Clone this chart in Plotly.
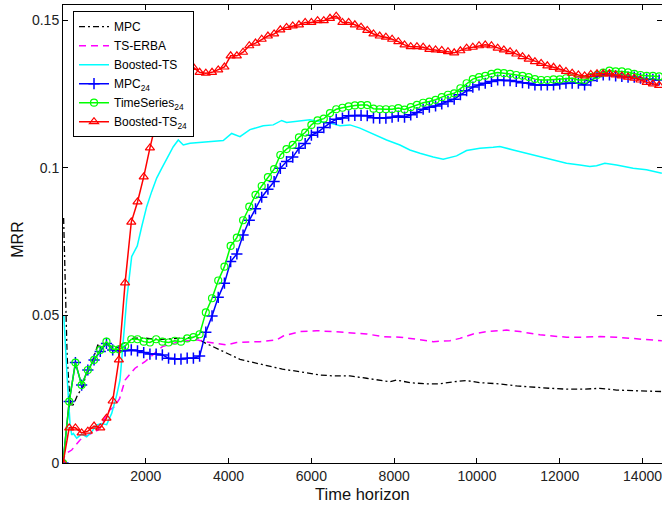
import plotly.graph_objects as go

# ---------------- data ----------------
# Series without markers (time, value)
mpc_t = [15, 40, 70, 100, 150, 200, 260, 350, 490, 550, 650, 750, 853, 900, 1055, 1150, 1297, 1450,
         1577, 1700, 2000, 2300, 2600, 2900, 3229, 3381, 3712, 4000, 4275, 4516, 5000, 5300, 5723,
         5965, 6206, 6520, 6931, 7334, 7735, 7897, 8059, 8380, 8783, 9105, 9426, 9749, 10071,
         10554, 10957, 11358, 11761, 12164, 12565, 12968, 13372, 13772, 14176, 14466]
mpc_v = [0.083, 0.07, 0.05, 0.036, 0.025, 0.019, 0.020, 0.023, 0.026, 0.030, 0.032, 0.036, 0.0405,
         0.038, 0.041, 0.0395, 0.039, 0.0405, 0.041, 0.0423, 0.0423, 0.0418, 0.042, 0.0422, 0.0426,
         0.041, 0.0389, 0.037, 0.0351, 0.0343, 0.0328, 0.0318, 0.0309, 0.0304, 0.0298, 0.0295,
         0.0295, 0.0287, 0.0279, 0.0275, 0.0281, 0.0272, 0.0268, 0.0268, 0.0275, 0.0279, 0.0272,
         0.0268, 0.0261, 0.0256, 0.0253, 0.025, 0.025, 0.0253, 0.0247, 0.0245, 0.0242, 0.0242]

erba_t = [0, 30, 97, 210, 410, 610, 850, 1130, 1250, 1370, 1500, 1740, 1980, 2260, 2400, 2800, 3230,
          3430, 3950, 4190, 4760, 5160, 5320, 5723, 6126, 6527, 6931, 7334, 7735, 8140, 8540, 8943,
          9345, 9587, 9910, 10232, 10715, 11036, 11519, 12164, 12565, 12968, 13372, 13772, 14176,
          14466]
erba_v = [0.0, 0.002, 0.0034, 0.0044, 0.0078, 0.0095, 0.0112, 0.018, 0.0191, 0.0219, 0.0281, 0.0321,
          0.0343, 0.0377, 0.0394, 0.0411, 0.0417, 0.0411, 0.040, 0.0408, 0.0411, 0.0417, 0.043,
          0.0445, 0.0448, 0.0445, 0.0441, 0.0437, 0.0428, 0.0426, 0.0419, 0.0411, 0.0414, 0.0422,
          0.0437, 0.0445, 0.045, 0.0445, 0.0434, 0.0426, 0.0426, 0.0428, 0.0426, 0.0422, 0.0417,
          0.0414]

bts_t = [20, 60, 100, 169, 210, 250, 331, 452, 572, 693, 814, 935, 1055, 1176, 1297, 1377, 1450, 1538,
         1659, 1794, 1901, 2021, 2142, 2263, 2384, 2543, 2664, 2785, 2905, 3067, 3309, 3630, 3871,
         4074, 4275, 4516, 4837, 5079, 5282, 5402, 5644, 5965, 6206, 6448, 6690, 6931, 7173, 7494,
         7817, 8139, 8380, 8622, 8943, 9184, 9508, 9749, 10071, 10392, 10554, 10875, 11198, 11520,
         11841, 12164, 12486, 12727, 12889, 13089, 13372, 13772, 14096, 14466]
bts_v = [0.05, 0.038, 0.029, 0.0135, 0.0095, 0.010, 0.0084, 0.0098, 0.0089, 0.0106, 0.0129, 0.0134,
         0.013, 0.0168, 0.023, 0.0281, 0.040, 0.0552, 0.0699, 0.0735, 0.080, 0.0868, 0.0919, 0.0965,
         0.0998, 0.1038, 0.1071, 0.1094, 0.1077, 0.1083, 0.1085, 0.1088, 0.1092, 0.1116, 0.1105,
         0.1129, 0.1142, 0.1145, 0.116, 0.1153, 0.1156, 0.1162, 0.1156, 0.1151, 0.1142, 0.1145,
         0.1134, 0.1114, 0.1094, 0.1077, 0.106, 0.1049, 0.1036, 0.1029, 0.104, 0.1058, 0.1066,
         0.1069, 0.1072, 0.106, 0.1049, 0.1038, 0.1026, 0.1015, 0.1009, 0.1004, 0.1007, 0.1015,
         0.1009, 0.0998, 0.0993, 0.0981]

# Series with markers, sampled every 150 time steps
marker_t = list(range(0, 14401, 150))

mpc24_v = [0.0, 0.0208, 0.034, 0.0264, 0.0315, 0.0349, 0.0378, 0.0405, 0.0383, 0.038,
           0.038, 0.0383, 0.038, 0.0374, 0.0369, 0.0369, 0.0366, 0.0355, 0.0352, 0.0352,
           0.0355, 0.0355, 0.0362, 0.0443, 0.0498, 0.0561, 0.0609, 0.0682, 0.0708, 0.0772,
           0.0822, 0.0861, 0.090, 0.0927, 0.0953, 0.0998, 0.1021, 0.1036, 0.1066, 0.1082,
           0.111, 0.112, 0.1136, 0.1152, 0.1164, 0.1168, 0.1176, 0.1177, 0.1177, 0.1176,
           0.1169, 0.1168, 0.1168, 0.1171, 0.1175, 0.1171, 0.1179, 0.1187, 0.1198, 0.1205,
           0.1209, 0.1216, 0.1224, 0.1232, 0.1247, 0.1261, 0.1273, 0.128, 0.1286, 0.1292,
           0.1297, 0.1295, 0.1295, 0.1292, 0.1288, 0.1286, 0.128, 0.128, 0.128, 0.128,
           0.1284, 0.1286, 0.1286, 0.1286, 0.128, 0.1295, 0.1309, 0.1314, 0.1314, 0.1311,
           0.1309, 0.1307, 0.1307, 0.1303, 0.130, 0.1299, 0.1297]

ts24_v = [0.0, 0.0208, 0.034, 0.0264, 0.0315, 0.0349, 0.0383, 0.0411, 0.0385, 0.0385,
          0.0396, 0.0419, 0.0419, 0.0411, 0.0408, 0.0419, 0.0411, 0.0408, 0.0414, 0.0411,
          0.0422, 0.0426, 0.0436, 0.051, 0.0558, 0.0618, 0.0665, 0.0735, 0.0763, 0.0822,
          0.0868, 0.0908, 0.0938, 0.0968, 0.0995, 0.1043, 0.1063, 0.1077, 0.1103, 0.1119,
          0.1145, 0.116, 0.1166, 0.1185, 0.1198, 0.1203, 0.1208, 0.1211, 0.1212, 0.1212,
          0.120, 0.1198, 0.1198, 0.1198, 0.1202, 0.1197, 0.1205, 0.1213, 0.122, 0.1224,
          0.123, 0.1239, 0.1247, 0.1252, 0.1269, 0.1286, 0.130, 0.1307, 0.1311, 0.1318,
          0.1322, 0.132, 0.1318, 0.1314, 0.1311, 0.1307, 0.130, 0.1297, 0.1297, 0.1299,
          0.1299, 0.1303, 0.1303, 0.1297, 0.1297, 0.1307, 0.1314, 0.1322, 0.1329, 0.1326,
          0.1326, 0.1323, 0.1318, 0.1314, 0.1311, 0.1311, 0.1309]

bts24_v = [0.0, 0.0119, 0.0119, 0.0102, 0.0108, 0.0125, 0.0119, 0.0152, 0.021, 0.0349,
           0.061, 0.0816, 0.0884, 0.0969, 0.1067, 0.1155, 0.122, 0.127, 0.131, 0.134,
           0.135, 0.134, 0.1323, 0.132, 0.1323, 0.1331, 0.1341, 0.1379, 0.1379, 0.1391,
           0.1413, 0.1422, 0.1435, 0.1446, 0.1453, 0.1467, 0.1475, 0.148, 0.1484, 0.1492,
           0.1492, 0.1498, 0.1498, 0.1506, 0.1513, 0.1492, 0.1492, 0.1484, 0.1476, 0.1465,
           0.1453, 0.1446, 0.1442, 0.1435, 0.1427, 0.1416, 0.141, 0.141, 0.1408, 0.1401,
           0.1399, 0.1397, 0.1393, 0.1389, 0.1396, 0.1405, 0.1408, 0.1413, 0.1416, 0.1413,
           0.1405, 0.1399, 0.1393, 0.1385, 0.1376, 0.1368, 0.1359, 0.1353, 0.1345, 0.134,
           0.1334, 0.1326, 0.132, 0.1314, 0.1311, 0.1316, 0.1318, 0.1318, 0.1318, 0.1314,
           0.1311, 0.1307, 0.1303, 0.1297, 0.1289, 0.1284, 0.1279]

x_ticks = [2000, 4000, 6000, 8000, 10000, 12000, 14000]
x_tick_text = ["2000", "4000", "6000", "8000", "10000", "12000", "14000"]
y_ticks = [0, 0.05, 0.1, 0.15]
y_tick_text = ["0", "0.05", "0.1", "0.15"]

# ---------------- figure ----------------
FONT = "Liberation Sans, Arial, Helvetica, sans-serif"
fig = go.Figure()

fig.add_trace(go.Scatter(x=mpc_t, y=mpc_v, mode="lines", name="MPC",
                         line=dict(color="black", width=1.3, dash="6px,3px,2px,3px")))
fig.add_trace(go.Scatter(x=erba_t, y=erba_v, mode="lines", name="TS-ERBA",
                         line=dict(color="#ff00ff", width=1.5, dash="7px,5px")))
fig.add_trace(go.Scatter(x=bts_t, y=bts_v, mode="lines", name="Boosted-TS",
                         line=dict(color="#00ffff", width=1.5)))
fig.add_trace(go.Scatter(x=marker_t, y=mpc24_v, mode="lines+markers", name="MPC<sub>24</sub>",
                         line=dict(color="#0000ff", width=1.5),
                         marker=dict(symbol="cross-thin-open", size=8,
                                     line=dict(color="#0000ff", width=1.5))))
fig.add_trace(go.Scatter(x=marker_t, y=ts24_v, mode="lines+markers", name="TimeSeries<sub>24</sub>",
                         line=dict(color="#00ff00", width=1.5),
                         marker=dict(symbol="circle-open", size=7,
                                     line=dict(color="#00ff00", width=1.2))))
fig.add_trace(go.Scatter(x=marker_t, y=bts24_v, mode="lines+markers", name="Boosted-TS<sub>24</sub>",
                         line=dict(color="#ff0000", width=1.5),
                         marker=dict(symbol="triangle-up-open", size=8,
                                     line=dict(color="#ff0000", width=1.2))))

axis_common = dict(showline=True, linecolor="black", linewidth=1, mirror="allticks",
                   ticks="inside", ticklen=5, tickcolor="black", showgrid=False,
                   zeroline=False, automargin=False, ticklabeloverflow="allow",
                   tickfont=dict(family=FONT, size=14, color="#222"))

fig.update_xaxes(range=[0, 14470], tickvals=x_ticks, ticktext=x_tick_text, **axis_common)
fig.update_yaxes(range=[0, 0.1551], tickvals=y_ticks, ticktext=y_tick_text, **axis_common)

fig.add_annotation(text="Time horizon", xref="paper", yref="paper", x=0.5, y=-0.068,
                   xanchor="center", yanchor="middle", showarrow=False,
                   font=dict(family=FONT, size=16.5, color="#111"))
fig.add_annotation(text="MRR", xref="paper", yref="paper", x=-0.0755, y=0.487,
                   xanchor="center", yanchor="middle", showarrow=False, textangle=-90,
                   font=dict(family=FONT, size=16, color="#111"))

fig.update_layout(
    width=662, height=505,
    margin=dict(l=63, r=0, t=5, b=42),
    plot_bgcolor="white", paper_bgcolor="white",
    font=dict(family=FONT, size=14, color="black"),
    showlegend=True,
    legend=dict(x=0.0167, y=0.9865, xanchor="left", yanchor="top",
                bgcolor="white", bordercolor="black", borderwidth=1,
                font=dict(family=FONT, size=12, color="black"),
                itemwidth=30, tracegroupgap=0),
)

fig.write_html("out.html", config={"displayModeBar": False},
               post_script="document.body.style.margin='0px';document.body.style.overflow='hidden';")
